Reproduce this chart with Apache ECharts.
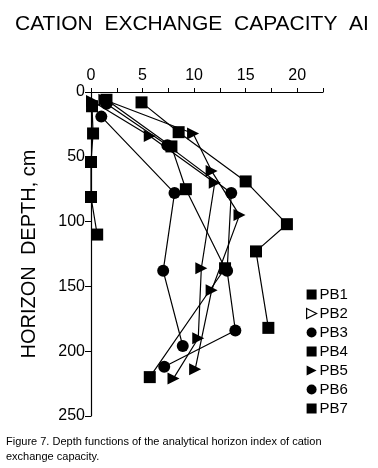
<!DOCTYPE html>
<html style="height: 100%">
  <head>
    <meta charset="utf-8" />
  </head>
  <body style="height: 100%; margin: 0; background: #fff">
    <div id="container" style="width: 378px; height: 468px"></div>

    <script
      type="text/javascript"
      src="https://cdn.jsdelivr.net/npm/echarts@6/dist/echarts.min.js"
    ></script>

    <script type="text/javascript">
      var dom = document.getElementById("container");
      var myChart = echarts.init(dom);

      // CEC values (x) and horizon depths in cm (y)
      var pb1Cec = [4.9, 8.5, 15.0, 19.0, 16.0, 17.2];
      var pb1Depth = [8, 31, 69, 102, 123, 182];
      var pb2Cec = [1.3, 9.9, 11.7, 14.4, 11.7, 10.1];
      var pb2Depth = [6, 32, 61, 95, 153, 214];
      var pb3Cec = [1.0, 8.1, 7.0, 8.9];
      var pb3Depth = [19, 78, 138, 196];
      var pb4Cec = [1.5, 7.8, 9.2, 13.0, 5.7];
      var pb4Depth = [6, 42, 75, 136, 220];
      var pb5Cec = [0.1, 5.7, 12.0, 10.7, 10.4, 8.0];
      var pb5Depth = [7, 34, 70, 136, 190, 221];
      var pb6Cec = [1.5, 7.4, 13.6, 13.2, 14.0, 7.1];
      var pb6Depth = [9, 41, 78, 138, 184, 212];
      var pb7Cec = [0.1, 0.2, 0.0, 0.0, 0.6];
      var pb7Depth = [11, 32, 54, 81, 110];

      var xTicks = [0, 5, 10, 15, 20];
      var yTicks = [0, 50, 100, 150, 200, 250];

      var TRI = "path://M0,0L10,5L0,10Z";

      function pairs(xs, ys) {
        return xs.map(function (v, i) {
          return [v, ys[i]];
        });
      }

      function profile(name, xs, ys, symbol, size) {
        return {
          name: name,
          type: "line",
          data: pairs(xs, ys),
          symbol: symbol,
          symbolSize: size,
          showAllSymbol: true,
          lineStyle: { color: "#000", width: 1.2 },
          itemStyle: { color: "#000" },
          animation: false,
          z: 3,
        };
      }

      var option = {
        backgroundColor: "#fff",
        textStyle: { fontFamily: "Liberation Sans, Arial, sans-serif" },
        title: {
          text: "CATION  EXCHANGE  CAPACITY  AI",
          left: 10,
          top: 9,
          textStyle: {
            fontSize: 21,
            fontWeight: "normal",
            color: "#000",
            fontFamily: "Liberation Sans, Arial, sans-serif",
          },
        },
        grid: { left: 91, top: 92, width: 232, height: 324 },
        xAxis: {
          type: "value",
          position: "top",
          min: 0,
          max: 22.5,
          interval: 2.5,
          axisLine: { lineStyle: { color: "#000", width: 1.2 } },
          axisTick: { length: 4, lineStyle: { color: "#000" } },
          splitLine: { show: false },
          axisLabel: {
            color: "#000",
            fontSize: 16,
            margin: 8,
            formatter: function (v) {
              return xTicks.indexOf(v) >= 0 ? String(v) : "";
            },
          },
        },
        yAxis: {
          type: "value",
          inverse: true,
          min: 0,
          max: 250,
          interval: 50,
          name: "HORIZON  DEPTH, cm",
          nameLocation: "middle",
          nameGap: 52,
          nameRotate: 90,
          nameTextStyle: { color: "#000", fontSize: 20 },
          axisLine: { lineStyle: { color: "#000", width: 1.2 } },
          axisTick: { length: 6, lineStyle: { color: "#000" } },
          splitLine: { show: false },
          axisLabel: {
            color: "#000",
            fontSize: 16,
            margin: 6,
            formatter: function (v) {
              return yTicks.indexOf(v) >= 0 ? String(v) : "";
            },
          },
        },
        legend: {
          orient: "vertical",
          left: 301,
          top: 282,
          itemWidth: 10,
          itemHeight: 10,
          itemGap: 4,
          textStyle: { color: "#000", fontSize: 15, padding: [0, 0, 0, -2] },
          data: [
            { name: "PB1", icon: "rect" },
            {
              name: "PB2",
              icon: TRI,
              itemStyle: { color: "#fff", borderColor: "#000", borderWidth: 1.2 },
            },
            { name: "PB3", icon: "circle" },
            { name: "PB4", icon: "rect" },
            { name: "PB5", icon: TRI },
            { name: "PB6", icon: "circle" },
            { name: "PB7", icon: "rect" },
          ],
        },
        graphic: [
          {
            type: "text",
            left: 6,
            top: 434,
            style: {
              text:
                "Figure 7. Depth functions of the analytical horizon index of cation\nexchange capacity.",
              fontSize: 11,
              lineHeight: 15,
              fill: "#000",
              fontFamily: "Liberation Sans, Arial, sans-serif",
            },
          },
        ],
        series: [
          profile("PB1", pb1Cec, pb1Depth, "rect", 12),
          profile("PB2", pb2Cec, pb2Depth, TRI, 12),
          profile("PB3", pb3Cec, pb3Depth, "circle", 12),
          profile("PB4", pb4Cec, pb4Depth, "rect", 12),
          profile("PB5", pb5Cec, pb5Depth, TRI, 12),
          profile("PB6", pb6Cec, pb6Depth, "circle", 12),
          profile("PB7", pb7Cec, pb7Depth, "rect", 12),
        ],
      };

      if (option && typeof option === "object") {
        myChart.setOption(option);
      }
    </script>
  </body>
</html>
